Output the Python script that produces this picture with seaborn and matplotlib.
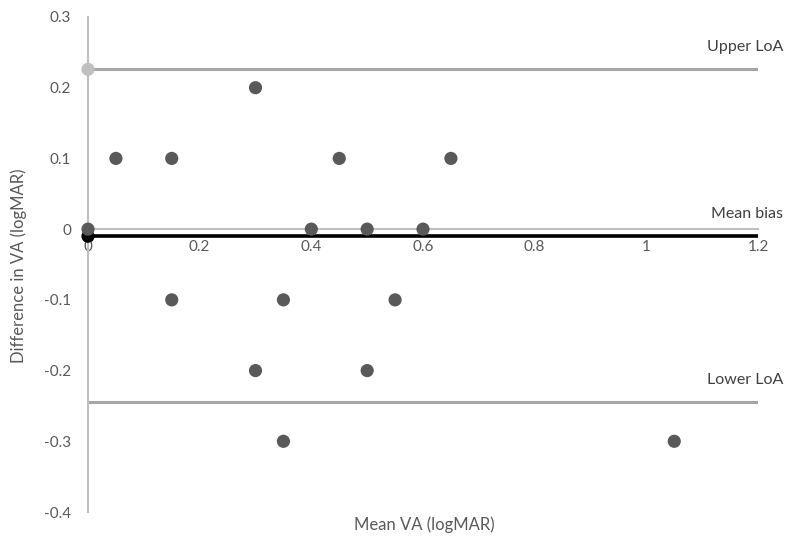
import matplotlib
matplotlib.use("Agg")
import matplotlib.pyplot as plt
import seaborn as sns
import pandas as pd
from matplotlib.ticker import FuncFormatter, MultipleLocator

mean_va = [0.0, 0.05, 0.15, 0.30, 0.45, 0.65, 0.40, 0.50, 0.60,
           0.15, 0.35, 0.55, 0.30, 0.50, 0.35, 1.05]
diff_va = [0.0, 0.1, 0.1, 0.2, 0.1, 0.1, 0.0, 0.0, 0.0,
           -0.1, -0.1, -0.1, -0.2, -0.2, -0.3, -0.3]

line_x = [0.0, 1.2]
upper_loa = 0.226
mean_bias = -0.01
lower_loa = -0.245
line_labels = ["Upper LoA", "Mean bias", "Lower LoA"]

sns.set_theme(style="white")
plt.rcParams['font.family'] = ['Lato', 'DejaVu Sans']
plt.rcParams['axes.unicode_minus'] = False

fig = plt.figure(figsize=(8, 5.53), dpi=100)
ax = fig.add_axes([0.11, 0.0741, 0.8375, 0.8952])

df_pts = pd.DataFrame({"x": mean_va, "y": diff_va})
df_up = pd.DataFrame({"x": line_x, "y": [upper_loa] * 2})
df_mb = pd.DataFrame({"x": line_x, "y": [mean_bias] * 2})
df_lo = pd.DataFrame({"x": line_x, "y": [lower_loa] * 2})

sns.lineplot(data=df_up, x="x", y="y", ax=ax, color="#a6a6a6", lw=2.2, zorder=2)
sns.lineplot(data=df_lo, x="x", y="y", ax=ax, color="#a6a6a6", lw=2.2, zorder=2)
sns.lineplot(data=df_mb, x="x", y="y", ax=ax, color="#000000", lw=2.6, zorder=3)

sns.scatterplot(data=df_up.iloc[:1], x="x", y="y", ax=ax, color="#bfbfbf", s=90,
                edgecolor="none", zorder=4, clip_on=False)
sns.scatterplot(data=df_mb.iloc[:1], x="x", y="y", ax=ax, color="#000000", s=90,
                edgecolor="none", zorder=4, clip_on=False)
sns.scatterplot(data=df_pts, x="x", y="y", ax=ax, color="#595959", s=90,
                edgecolor="none", zorder=5, clip_on=False)

ax.set_xlim(0, 1.2)
ax.set_ylim(-0.4, 0.3)
ax.xaxis.set_major_locator(MultipleLocator(0.2))
ax.yaxis.set_major_locator(MultipleLocator(0.1))
fmt = FuncFormatter(lambda v, p: "{:g}".format(round(v, 2)))
ax.xaxis.set_major_formatter(fmt)
ax.yaxis.set_major_formatter(fmt)

for s in ["top", "right"]:
    ax.spines[s].set_visible(False)
ax.spines["bottom"].set_position(("data", 0))
ax.spines["bottom"].set_color("#bfbfbf")
ax.spines["bottom"].set_linewidth(1.5)
ax.spines["left"].set_color("#bfbfbf")
ax.spines["left"].set_linewidth(1.5)
ax.tick_params(axis="both", length=0, labelsize=11, labelcolor="#595959")
ax.tick_params(axis="x", pad=8)
ax.tick_params(axis="y", pad=12)

ax.set_xlabel("")
ax.set_ylabel("")
fig.text(0.531, 0.052, "Mean VA (logMAR)", ha="center", va="center",
         fontsize=12, color="#595959")
fig.text(0.023, 0.52, "Difference in VA (logMAR)", ha="center", va="center",
         rotation=90, fontsize=12, color="#595959")

for lab, yv in zip(line_labels, [upper_loa, mean_bias, lower_loa]):
    ax.text(1.245, yv + 0.022, lab, ha="right", va="bottom", fontsize=11.5,
            color="#404040", clip_on=False)

fig.savefig("out.png", dpi=100)
